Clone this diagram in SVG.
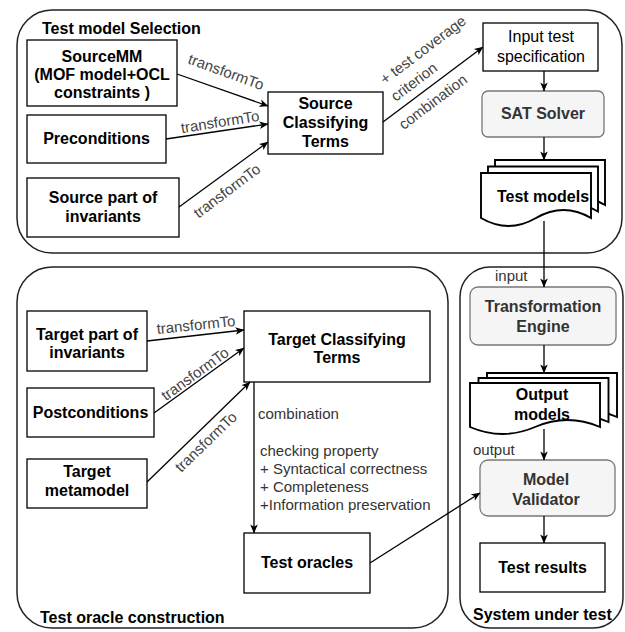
<svg xmlns="http://www.w3.org/2000/svg" width="625" height="632" viewBox="0 0 625 632">
  <defs>
    <marker id="arr" viewBox="0 0 10 10" refX="9.5" refY="5" markerWidth="9" markerHeight="9" markerUnits="userSpaceOnUse" orient="auto">
      <path d="M0,0.8 L10,5 L0,9.2 L2.6,5 Z" fill="#000"/>
    </marker>
    <!-- one page of a document stack, drawn at the origin -->
    <path id="pageA" d="M0,0 H110 V45 Q82.5,29 55,45 Q27.5,61 0,45 Z"/>
    <path id="pageB" d="M0,0 H130 V44 Q97.5,30 65,44 Q32.5,58 0,44 Z"/>
  </defs>
  <style>
    .cont { fill: none; stroke: #222; stroke-width: 1.5; }
    .box { fill: #fff; stroke: #000; stroke-width: 1.3; }
    .gbox { fill: #f5f5f5; stroke: #777; stroke-width: 1.3; }
    .doc { fill: #fff; stroke: #000; stroke-width: 1.9; }
    .t { font-family: "Liberation Sans", Arial, Helvetica, sans-serif; font-size: 16px; font-weight: bold; fill: #000; text-anchor: middle; }
    .tg { fill: #333; }
    .n { font-weight: normal; }
    .s { text-anchor: start; }
    .lbl { font-family: "Liberation Sans", Arial, Helvetica, sans-serif; font-size: 15px; fill: #444; text-anchor: middle; }
    .lbs { font-family: "Liberation Sans", Arial, Helvetica, sans-serif; font-size: 15px; fill: #333; }
    .edge { fill: none; stroke: #000; stroke-width: 1.3; marker-end: url(#arr); }
  </style>

  <!-- containers -->
  <g id="test-model-selection">
    <rect class="cont" x="17" y="10" width="605" height="243" rx="35" ry="35"/>
    <text class="t s" x="42" y="34">Test model Selection</text>
  </g>
  <g id="test-oracle-construction">
    <rect class="cont" x="17" y="267" width="431" height="361" rx="35" ry="35"/>
    <text class="t s" x="40" y="623">Test oracle construction</text>
  </g>
  <g id="system-under-test">
    <rect class="cont" x="460" y="267" width="163" height="361" rx="30" ry="30"/>
    <text class="t s" x="473" y="620">System under test</text>
  </g>

  <!-- test model selection nodes -->
  <g id="source-mm">
    <rect class="box" x="27" y="40" width="150" height="66"/>
    <text class="t" x="102" y="62">SourceMM</text>
    <text class="t" x="102" y="80">(MOF model+OCL</text>
    <text class="t" x="102" y="98">constraints )</text>
  </g>
  <g id="preconditions">
    <rect class="box" x="27" y="115" width="139" height="48"/>
    <text class="t" x="96.5" y="144">Preconditions</text>
  </g>
  <g id="source-invariants">
    <rect class="box" x="27" y="178" width="152" height="59"/>
    <text class="t" x="103" y="203">Source part of</text>
    <text class="t" x="103" y="222">invariants</text>
  </g>
  <g id="source-ct">
    <rect class="box" x="268" y="92" width="115" height="62"/>
    <text class="t" x="325.5" y="109">Source</text>
    <text class="t" x="325.5" y="128">Classifying</text>
    <text class="t" x="325.5" y="147">Terms</text>
  </g>
  <g id="input-spec">
    <rect class="box" x="483" y="23" width="115" height="48"/>
    <text class="t n" x="541" y="42">Input test</text>
    <text class="t n" x="541" y="62">specification</text>
  </g>
  <g id="sat-solver">
    <rect class="gbox" x="482" y="91" width="122" height="46" rx="6" ry="6"/>
    <text class="t tg" x="543" y="119">SAT Solver</text>
  </g>
  <g id="test-models">
    <use href="#pageA" class="doc" x="495" y="160"/>
    <use href="#pageA" class="doc" x="488" y="166.5"/>
    <use href="#pageA" class="doc" x="481" y="173"/>
    <text class="t" x="543" y="202">Test models</text>
  </g>

  <!-- test oracle construction nodes -->
  <g id="target-invariants">
    <rect class="box" x="27" y="311" width="120" height="60"/>
    <text class="t" x="87" y="340">Target part of</text>
    <text class="t" x="87" y="358">invariants</text>
  </g>
  <g id="postconditions">
    <rect class="box" x="27" y="388" width="127" height="49"/>
    <text class="t" x="90.5" y="418">Postconditions</text>
  </g>
  <g id="target-mm">
    <rect class="box" x="27" y="459" width="120" height="49"/>
    <text class="t" x="87" y="477">Target</text>
    <text class="t" x="87" y="496">metamodel</text>
  </g>
  <g id="target-ct">
    <rect class="box" x="244" y="311" width="186" height="71"/>
    <text class="t" x="337" y="345">Target Classifying</text>
    <text class="t" x="337" y="363">Terms</text>
  </g>
  <g id="test-oracles">
    <rect class="box" x="244" y="533" width="126" height="60"/>
    <text class="t" x="307" y="568">Test oracles</text>
  </g>

  <!-- system under test nodes -->
  <g id="transformation-engine">
    <rect class="gbox" x="470" y="287" width="146" height="58" rx="8" ry="8"/>
    <text class="t tg" x="543" y="312">Transformation</text>
    <text class="t tg" x="543" y="332">Engine</text>
  </g>
  <g id="output-models">
    <use href="#pageB" class="doc" x="487" y="373"/>
    <use href="#pageB" class="doc" x="478.5" y="378"/>
    <use href="#pageB" class="doc" x="470" y="383"/>
    <text class="t" x="542" y="400">Output</text>
    <text class="t" x="542" y="420">models</text>
  </g>
  <g id="model-validator">
    <rect class="gbox" x="480" y="460" width="135" height="56" rx="8" ry="8"/>
    <text class="t tg" x="546" y="485">Model</text>
    <text class="t tg" x="546" y="505">Validator</text>
  </g>
  <g id="test-results">
    <rect class="box" x="480" y="543" width="125" height="49"/>
    <text class="t" x="542.5" y="573">Test results</text>
  </g>

  <!-- connectors -->
  <g id="connectors">
    <line class="edge" x1="177" y1="74" x2="268" y2="106"/>
    <line class="edge" x1="166" y1="139" x2="268" y2="124"/>
    <line class="edge" x1="179" y1="207" x2="268" y2="142"/>
    <line class="edge" x1="383" y1="122" x2="483" y2="47"/>
    <line class="edge" x1="544" y1="71" x2="544" y2="91"/>
    <line class="edge" x1="544" y1="137" x2="544" y2="160"/>
    <line class="edge" x1="544" y1="221" x2="544" y2="287"/>
    <line class="edge" x1="544" y1="345" x2="544" y2="373"/>
    <line class="edge" x1="544" y1="429" x2="544" y2="460"/>
    <line class="edge" x1="544" y1="516" x2="544" y2="543"/>
    <line class="edge" x1="147" y1="341" x2="244" y2="330"/>
    <line class="edge" x1="154" y1="413" x2="244" y2="348"/>
    <line class="edge" x1="147" y1="482" x2="250" y2="382"/>
    <line class="edge" x1="254" y1="382" x2="254" y2="533"/>
    <line class="edge" x1="370" y1="563" x2="480" y2="493"/>

    <!-- connector labels -->
    <text class="lbl" x="226" y="72" dy="5" transform="rotate(20 226 72)">transformTo</text>
    <text class="lbl" x="220" y="122" dy="5" transform="rotate(-9 220 122)">transformTo</text>
    <text class="lbl" x="227" y="191" dy="5" transform="rotate(-37 227 191)">transformTo</text>
    <text class="lbl" x="423" y="50" dy="5" transform="rotate(-37 423 50)">+ test coverage</text>
    <text class="lbl" x="414" y="82" dy="5" transform="rotate(-37 414 82)">criterion</text>
    <text class="lbl" x="433" y="102" dy="5" transform="rotate(-37 433 102)">combination</text>
    <text class="lbl" x="196" y="325" dy="5" transform="rotate(-6 196 325)">transformTo</text>
    <text class="lbl" x="195" y="374" dy="5" transform="rotate(-36 195 374)">transformTo</text>
    <text class="lbl" x="206" y="442" dy="5" transform="rotate(-44 206 442)">transformTo</text>
    <text class="lbs" x="495" y="281">input</text>
    <text class="lbs" x="473" y="455">output</text>
    <text class="lbs" x="258" y="419">combination</text>
    <text class="lbs" x="260" y="456">checking property</text>
    <text class="lbs" x="260" y="474">+ Syntactical correctness</text>
    <text class="lbs" x="260" y="492">+ Completeness</text>
    <text class="lbs" x="260" y="510">+Information preservation</text>
  </g>
</svg>
